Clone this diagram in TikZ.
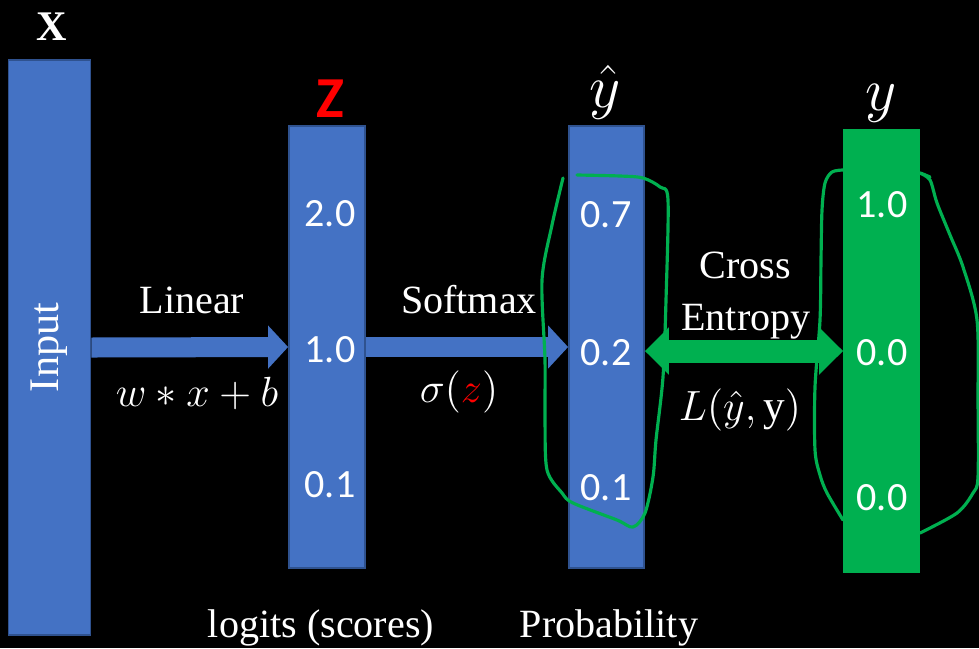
\documentclass[tikz,border=0pt]{standalone}
\usepackage{fontspec}
\setmainfont{Liberation Serif}
\newfontfamily\calibri{Carlito}
\usetikzlibrary{arrows.meta, positioning}
\definecolor{barblue}{HTML}{4472C4}
\definecolor{barline}{HTML}{2F528F}
\definecolor{pengreen}{HTML}{00B050}
\tikzset{
  bar/.style={draw=barline, fill=barblue, line width=0.5pt, inner sep=0pt, minimum width=0.75cm},
  num/.style={text=white, font=\calibri\fontsize{11.4}{13}\selectfont, anchor=base},
  txt/.style={text=white, font=\fontsize{11.4}{13}\selectfont, anchor=base},
  formula/.style={txt, font=\fontsize{12.3}{14}\selectfont},
  blockarrow/.style={barblue, line width=0.2cm, -{Triangle[length=0.2cm, width=0.42cm]}},
  ink/.style={pengreen, line width=0.9pt, line cap=round, line join=round}
}

\begin{document}
\begin{tikzpicture}[x=0.01cm, y=-0.01cm]
  % backdrop
  \fill[black] (0,0) rectangle (979,648);
  \useasboundingbox (0,0) rectangle (979,648);

  % bars
  \node[bar, minimum width=0.82cm, minimum height=5.75cm] (input) at (49.5,347.5) {};
  \node[bar, minimum width=0.76cm, minimum height=4.42cm] (logits) at (327,347) {};
  \node[bar, minimum height=4.42cm] (prob) at (606.5,347) {};
  \node[bar, draw=pengreen, fill=pengreen, minimum height=4.42cm] (target) at (881.5,351) {};
  \node[txt, anchor=center, rotate=90, font=\fontsize{12}{14}\selectfont] (inputlbl) at (input.center) {Input};

  % heads
  \node[txt, font=\bfseries\fontsize{12}{14}\selectfont] (xlbl) at (52,40) {X};
  \node[num, text=red, font=\calibri\bfseries\fontsize{16.5}{18}\selectfont] (zlbl) at (330,117) {Z};
  \node[txt, font=\fontsize{16}{18}\selectfont] (yhatlbl) at (605,107) {$\hat{y}$};
  \node[txt, font=\fontsize{16}{18}\selectfont] (ylbl) at (881,110) {$y$};

  % values
  \node[num] (z1) at (330,226) {2.0};
  \node[num] (z2) at (330,362) {1.0};
  \node[num] (z3) at (330,497) {0.1};
  \node[num] (p1) at (606,227) {0.7};
  \node[num] (p2) at (606,365) {0.2};
  \node[num] (p3) at (606,500) {0.1};
  \node[num] (t1) at (882,217) {1.0};
  \node[num] (t2) at (882,365) {0.0};
  \node[num] (t3) at (882,510) {0.0};

  % connectors
  \draw[blockarrow] (input.east) -- (logits.west);
  \draw[blockarrow] (logits.east) -- (prob.west);
  \draw[pengreen, line width=0.23cm, {Triangle[length=0.24cm, width=0.46cm]}-{Triangle[length=0.24cm, width=0.46cm]}]
    (prob.east |- target.west) -- (target.west);

  % labels
  \node[txt] (linear) at (192,313) {Linear};
  \node[formula] (affine) at (197,406) {$w*x+b$};
  \node[txt] (softmax) at (469,313) {Softmax};
  \node[formula] (sigma) at (459,402) {$\sigma(\textcolor{red}{z})$};
  \node[txt] (cross) at (745,278) {Cross};
  \node[txt] (entropy) at (746,330) {Entropy};
  \node[formula] (loss) at (740,420) {$L(\hat{y},\mathrm{y})$};
  \node[txt] (logitslbl) at (321,637) {logits (scores)};
  \node[txt] (problbl) at (609,637) {Probability};

  % hand-drawn marks
  \draw[ink] plot[smooth, tension=0.5] coordinates {
    (577,175) (620,176) (643,178) (660,187) (668,200) (666,300) (663,377)
    (656,440) (653,477) (645,513) (633,527) (617,520) (573,503) (562,493)
    (547,470) (545,420) (545,360) (542,280) (552,225) (563,178)};
  \draw[ink] plot[smooth, tension=0.5] coordinates {
    (843,170) (832,172) (825,183) (822,210) (821,260) (820,320) (815,387)
    (815,450) (820,475) (827,493) (843,520)};
  \draw[ink] plot[smooth, tension=0.5] coordinates {
    (930,177) (920,173) (930,180) (937,203) (950,235) (963,267) (977,320)
    (978,400) (978,477) (973,493) (957,513) (920,533)};
\end{tikzpicture}
\end{document}
